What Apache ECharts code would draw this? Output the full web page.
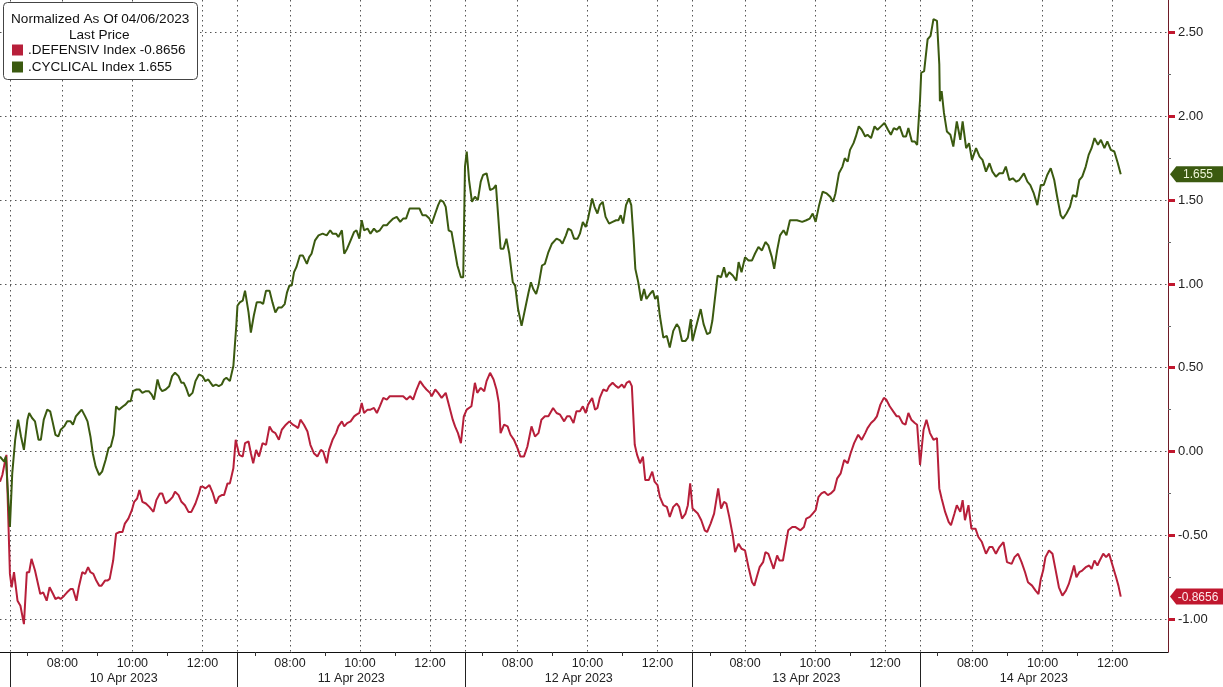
<!DOCTYPE html>
<html><head><meta charset="utf-8">
<script src="https://cdn.jsdelivr.net/npm/echarts@6/dist/echarts.min.js"></script>
<style>html,body{margin:0;padding:0;background:#fff}#c{width:1223px;height:687px}</style>
</head><body><div id="c"></div>
<script>
// Session days (each session 06:30-13:00 = 390 minutes; x = minutes since 06:30)
const dayLabels = ['10 Apr 2023', '11 Apr 2023', '12 Apr 2023', '13 Apr 2023', '14 Apr 2023'];
const hourLabelMinutes = [90, 210, 330];       // 08:00, 10:00, 12:00
const minorHourMinutes = [30, 150, 270];       // 07:00, 09:00, 11:00
const yLabelValues = [-1, -0.5, 0, 0.5, 1, 1.5, 2, 2.5];
const yMinorValues = [-0.75, -0.25, 0.25, 0.75, 1.25, 1.75, 2.25];
const seriesNames = ['.DEFENSIV Index', '.CYCLICAL Index'];
const lastLabels = ['-0.8656', '1.655'];

// tail of 6 Apr session (minutes before 10 Apr open)
const cycPrev = [[-17,-0.03],[-14,-0.04],[-10,-0.06],[-7,-0.03]];
const defPrev = [[-17,-0.18],[-13,-0.14],[-9,-0.07],[-6,-0.02]];

const cycD1 = [[0,-0.45],[4,-0.13],[9,0.07],[14,0.19],[19,0.09],[24,0.01],[30,0.19],[33,0.23],[38,0.20],[43,0.18],[49,0.07],[53,0.07],[58,0.19],[64,0.25],[69,0.24],[73,0.18],[78,0.10],[83,0.09],[87,0.13],[93,0.15],[98,0.18],[104,0.18],[108,0.16],[113,0.21],[118,0.23],[123,0.25],[129,0.21],[133,0.18],[138,0.09],[142,-0.01],[147,-0.09],[153,-0.14],[158,-0.12],[164,-0.05],[169,0.02],[173,0.03],[178,0.10],[182,0.27],[187,0.25],[194,0.27],[198,0.28],[203,0.30],[207,0.30],[211,0.36],[217,0.37],[222,0.37],[227,0.35],[233,0.36],[238,0.36],[243,0.34],[247,0.31],[253,0.43],[257,0.38],[261,0.36],[267,0.37],[273,0.39],[278,0.45],[283,0.47],[289,0.45],[294,0.41],[298,0.41],[302,0.38],[307,0.33],[313,0.35],[318,0.42],[324,0.46],[330,0.45],[335,0.42],[340,0.43],[344,0.41],[348,0.39],[353,0.40],[358,0.39],[363,0.40],[367,0.43],[371,0.44],[377,0.42],[383,0.51],[388,0.75]];
const cycD2 = [[0,0.87],[4,0.89],[9,0.90],[13,0.96],[19,0.83],[23,0.71],[28,0.81],[33,0.89],[40,0.89],[44,0.88],[49,0.96],[55,0.96],[60,0.89],[65,0.83],[70,0.86],[76,0.86],[81,0.88],[85,0.95],[89,0.99],[93,0.99],[97,1.07],[101,1.10],[107,1.17],[112,1.17],[119,1.12],[123,1.16],[127,1.18],[133,1.26],[139,1.29],[146,1.30],[153,1.29],[159,1.32],[163,1.30],[169,1.30],[173,1.28],[179,1.32],[183,1.18],[188,1.21],[194,1.26],[200,1.31],[204,1.32],[209,1.27],[213,1.38],[217,1.32],[223,1.33],[228,1.30],[234,1.33],[239,1.31],[244,1.32],[250,1.35],[256,1.35],[261,1.37],[267,1.39],[273,1.40],[279,1.37],[284,1.39],[289,1.39],[295,1.45],[300,1.45],[306,1.45],[312,1.45],[317,1.41],[323,1.41],[329,1.39],[333,1.36],[339,1.42],[344,1.47],[348,1.50],[353,1.49],[357,1.46],[362,1.32],[367,1.31],[371,1.23],[377,1.11],[383,1.04],[387,1.04]];
const cycD3 = [[0,1.70],[3,1.79],[7,1.62],[12,1.49],[17,1.52],[22,1.50],[27,1.61],[31,1.65],[37,1.66],[43,1.56],[49,1.57],[53,1.59],[57,1.40],[61,1.21],[66,1.21],[71,1.27],[76,1.18],[82,1.01],[86,0.99],[91,0.85],[97,0.75],[103,0.85],[109,0.95],[113,1.01],[117,0.97],[122,0.94],[126,0.99],[132,1.11],[137,1.12],[143,1.19],[149,1.24],[157,1.27],[163,1.26],[167,1.24],[173,1.29],[177,1.33],[182,1.32],[187,1.27],[193,1.27],[197,1.30],[202,1.37],[207,1.34],[211,1.39],[218,1.51],[222,1.46],[227,1.42],[231,1.47],[236,1.49],[241,1.40],[247,1.36],[253,1.37],[259,1.38],[263,1.38],[267,1.41],[271,1.36],[276,1.47],[281,1.51],[285,1.47],[289,1.27],[292,1.09],[297,1.01],[302,0.90],[307,0.97],[311,0.91],[317,0.94],[322,0.96],[326,0.91],[330,0.93],[334,0.81],[340,0.68],[346,0.69],[351,0.62],[357,0.72],[363,0.76],[367,0.74],[372,0.66],[378,0.66],[382,0.68],[387,0.79]];
const cycD4 = [[0,0.66],[3,0.65],[8,0.77],[14,0.85],[19,0.76],[25,0.70],[30,0.71],[34,0.78],[38,0.90],[43,1.05],[49,1.04],[54,1.10],[58,1.04],[63,1.07],[69,1.05],[75,1.02],[79,1.13],[84,1.07],[90,1.16],[96,1.14],[102,1.14],[107,1.18],[113,1.22],[119,1.20],[125,1.25],[130,1.23],[136,1.16],[140,1.09],[145,1.20],[150,1.29],[156,1.32],[161,1.29],[167,1.38],[172,1.38],[179,1.38],[188,1.37],[195,1.38],[201,1.39],[206,1.42],[211,1.37],[217,1.47],[223,1.55],[230,1.54],[236,1.52],[241,1.49],[245,1.54],[251,1.66],[257,1.70],[261,1.75],[266,1.73],[270,1.80],[276,1.84],[280,1.88],[285,1.94],[290,1.92],[296,1.88],[300,1.89],[306,1.87],[312,1.94],[317,1.92],[323,1.94],[329,1.96],[335,1.92],[340,1.89],[345,1.93],[350,1.92],[355,1.94],[361,1.88],[366,1.88],[370,1.93],[376,1.85],[381,1.85],[385,1.83]];
const cycD5 = [[0,2.10],[2,2.26],[7,2.27],[13,2.46],[18,2.48],[23,2.58],[29,2.57],[33,2.31],[34,2.09],[37,2.15],[41,2.02],[46,1.91],[52,1.89],[57,1.82],[63,1.97],[69,1.86],[73,1.97],[79,1.81],[84,1.84],[89,1.74],[96,1.81],[102,1.76],[107,1.74],[113,1.67],[119,1.72],[124,1.67],[130,1.64],[136,1.66],[142,1.66],[147,1.70],[153,1.62],[159,1.63],[165,1.61],[170,1.62],[178,1.66],[184,1.61],[189,1.59],[195,1.54],[201,1.47],[207,1.59],[212,1.59],[218,1.65],[224,1.69],[230,1.62],[235,1.52],[241,1.41],[245,1.39],[251,1.42],[257,1.46],[262,1.53],[268,1.52],[273,1.62],[278,1.64],[284,1.70],[289,1.77],[294,1.81],[299,1.87],[305,1.83],[310,1.86],[316,1.81],[321,1.85],[327,1.80],[333,1.79],[339,1.72],[344,1.655]];

const defD1 = [[0,-0.73],[3,-0.81],[7,-0.72],[13,-0.89],[18,-0.92],[24,-1.03],[29,-0.72],[33,-0.72],[37,-0.64],[43,-0.71],[52,-0.85],[57,-0.84],[63,-0.89],[68,-0.81],[74,-0.85],[78,-0.88],[83,-0.87],[87,-0.88],[93,-0.86],[98,-0.84],[104,-0.82],[108,-0.82],[114,-0.89],[118,-0.81],[124,-0.72],[129,-0.73],[134,-0.69],[138,-0.72],[143,-0.73],[148,-0.77],[153,-0.80],[157,-0.80],[163,-0.77],[167,-0.77],[171,-0.76],[177,-0.65],[182,-0.49],[188,-0.48],[193,-0.48],[197,-0.43],[203,-0.40],[209,-0.35],[213,-0.30],[218,-0.28],[222,-0.23],[227,-0.30],[233,-0.31],[239,-0.33],[246,-0.36],[251,-0.29],[257,-0.25],[261,-0.25],[267,-0.31],[274,-0.29],[279,-0.27],[283,-0.24],[289,-0.26],[294,-0.30],[300,-0.32],[306,-0.36],[311,-0.36],[318,-0.31],[324,-0.25],[327,-0.21],[331,-0.21],[335,-0.22],[342,-0.20],[348,-0.25],[353,-0.31],[358,-0.27],[363,-0.26],[367,-0.26],[373,-0.19],[377,-0.19],[383,-0.10],[387,0.07]];
const defD2 = [[3,-0.02],[9,-0.03],[13,0.05],[19,0.06],[23,-0.01],[27,-0.07],[32,0.01],[37,-0.03],[43,0.05],[49,0.04],[55,0.15],[60,0.12],[65,0.11],[71,0.07],[76,0.13],[83,0.16],[89,0.18],[95,0.16],[100,0.15],[104,0.14],[108,0.19],[114,0.16],[120,0.12],[125,0.04],[131,-0.01],[137,-0.03],[143,0.01],[147,0.00],[153,-0.07],[157,0.01],[163,0.07],[169,0.11],[173,0.15],[179,0.18],[183,0.15],[188,0.17],[194,0.18],[200,0.21],[204,0.22],[209,0.23],[213,0.29],[217,0.23],[223,0.25],[228,0.25],[234,0.26],[239,0.23],[244,0.27],[250,0.32],[256,0.31],[261,0.33],[267,0.33],[273,0.33],[279,0.33],[284,0.33],[290,0.31],[296,0.33],[301,0.31],[307,0.37],[313,0.42],[319,0.39],[324,0.37],[330,0.35],[333,0.33],[339,0.37],[344,0.35],[350,0.32],[357,0.35],[363,0.27],[369,0.19],[373,0.15],[378,0.11],[383,0.05],[388,0.21]];
const defD3 = [[3,0.25],[11,0.27],[17,0.41],[21,0.35],[27,0.38],[33,0.36],[37,0.42],[43,0.47],[49,0.43],[54,0.37],[58,0.29],[61,0.11],[67,0.16],[73,0.15],[78,0.10],[84,0.07],[90,0.02],[95,-0.03],[101,-0.03],[107,0.03],[114,0.15],[120,0.09],[126,0.11],[131,0.19],[137,0.21],[143,0.21],[151,0.26],[157,0.23],[163,0.22],[170,0.18],[175,0.21],[180,0.21],[186,0.17],[191,0.24],[197,0.24],[202,0.27],[207,0.23],[211,0.28],[218,0.32],[223,0.25],[227,0.26],[231,0.32],[237,0.37],[243,0.36],[247,0.39],[253,0.41],[259,0.39],[263,0.38],[269,0.40],[273,0.38],[277,0.41],[282,0.42],[286,0.39],[291,0.04],[295,-0.02],[300,-0.07],[305,-0.03],[309,-0.17],[315,-0.17],[321,-0.12],[325,-0.18],[330,-0.20],[334,-0.27],[340,-0.32],[346,-0.33],[351,-0.39],[357,-0.33],[363,-0.31],[367,-0.33],[372,-0.40],[378,-0.37],[382,-0.32],[386,-0.19]];
const defD4 = [[0,-0.34],[3,-0.35],[9,-0.37],[15,-0.41],[21,-0.47],[25,-0.48],[31,-0.43],[37,-0.37],[44,-0.22],[49,-0.34],[54,-0.30],[58,-0.31],[63,-0.39],[69,-0.50],[73,-0.60],[79,-0.55],[84,-0.58],[90,-0.59],[96,-0.69],[102,-0.78],[106,-0.80],[110,-0.75],[115,-0.69],[121,-0.66],[125,-0.60],[130,-0.61],[134,-0.65],[139,-0.70],[145,-0.62],[149,-0.65],[155,-0.65],[160,-0.55],[164,-0.47],[171,-0.45],[176,-0.45],[185,-0.47],[191,-0.45],[195,-0.40],[201,-0.39],[206,-0.37],[211,-0.35],[216,-0.27],[221,-0.25],[226,-0.24],[232,-0.26],[237,-0.25],[243,-0.23],[248,-0.16],[254,-0.13],[260,-0.05],[266,-0.07],[271,-0.01],[277,0.05],[284,0.10],[290,0.07],[296,0.11],[300,0.14],[306,0.17],[312,0.19],[316,0.21],[322,0.28],[328,0.32],[332,0.31],[338,0.27],[344,0.24],[350,0.21],[354,0.21],[360,0.17],[365,0.16],[370,0.23],[375,0.19],[381,0.17],[385,0.16]];
const defD5 = [[0,-0.08],[2,-0.01],[6,0.13],[11,0.19],[17,0.11],[23,0.07],[29,0.08],[33,-0.22],[37,-0.28],[43,-0.36],[49,-0.42],[53,-0.44],[59,-0.37],[63,-0.32],[69,-0.36],[73,-0.29],[77,-0.41],[83,-0.32],[88,-0.46],[95,-0.46],[100,-0.51],[106,-0.54],[113,-0.61],[119,-0.57],[124,-0.57],[130,-0.61],[136,-0.57],[143,-0.54],[149,-0.66],[157,-0.67],[162,-0.63],[168,-0.61],[174,-0.66],[180,-0.72],[185,-0.78],[192,-0.80],[198,-0.83],[203,-0.85],[207,-0.76],[211,-0.71],[215,-0.63],[221,-0.59],[227,-0.61],[232,-0.70],[238,-0.81],[244,-0.86],[250,-0.83],[255,-0.79],[260,-0.73],[264,-0.68],[268,-0.75],[273,-0.72],[278,-0.71],[284,-0.69],[290,-0.68],[294,-0.70],[299,-0.65],[304,-0.68],[308,-0.65],[314,-0.61],[319,-0.63],[324,-0.61],[330,-0.68],[336,-0.75],[340,-0.80],[344,-0.8656]];

const SESSION = 390;
const X_MIN = -17, X_MAX = 1985;
const Y_MIN = -1.196, Y_MAX = 2.694;

function build(prev, days) {
  const out = prev.map(p => [p[0], p[1]]);
  days.forEach((d, i) => d.forEach(p => out.push([i * SESSION + p[0], p[1]])));
  return out;
}
const defData = build(defPrev, [defD1, defD2, defD3, defD4, defD5]);
const cycData = build(cycPrev, [cycD1, cycD2, cycD3, cycD4, cycD5]);

const dayIdx = dayLabels.map((_, i) => i);
const sepVals = dayIdx.map(i => i * SESSION);
const labelVals = [].concat(...dayIdx.map(i => hourLabelMinutes.map(m => i * SESSION + m)));
const minorVals = [].concat(...dayIdx.map(i => minorHourMinutes.map(m => i * SESSION + m)));
const gridVals = sepVals.concat(labelVals);
const centerVals = dayIdx.map(i => i * SESSION + SESSION / 2);

function timeOf(v) {
  const m = ((v % SESSION) + SESSION) % SESSION + 390; // 06:30 = 390 minutes
  const h = Math.floor(m / 60), mm = Math.round(m % 60);
  return (h < 10 ? '0' : '') + h + ':' + (mm < 10 ? '0' : '') + mm;
}

const RED = '#b71f3a', GREEN = '#3b5a10';
const FONT = 'Liberation Sans';
const dotted = { color: '#555', width: 1, type: [1.5, 3.5] };

function tag(color, text, textColor, value) {
  return {
    symbol: 'path://M0,8 L7,0 L60,0 L60,16 L7,16 Z',
    symbolSize: [54, 16],
    symbolKeepAspect: false,
    symbolOffset: [29, 0],
    silent: true,
    label: { show: true, position: 'inside', formatter: text, color: textColor,
             fontSize: 12, fontFamily: FONT, offset: [1, 1] },
    itemStyle: { color: color },
    data: [{ coord: [X_MAX, value] }]
  };
}

const chart = echarts.init(document.getElementById('c'), null, { renderer: 'canvas' });
chart.setOption({
  animation: false,
  backgroundColor: '#ffffff',
  textStyle: { fontFamily: FONT },
  grid: { left: 0, right: 55, top: 0, bottom: 35, containLabel: false },
  xAxis: [
    { type: 'value', min: X_MIN, max: X_MAX, position: 'bottom',
      axisLine: { show: true, onZero: false, lineStyle: { color: '#111', width: 1 } },
      axisTick: { show: false, customValues: gridVals },
      axisLabel: { customValues: labelVals, formatter: v => timeOf(v), color: '#222', fontSize: 12.5, margin: 5, fontFamily: FONT },
      splitLine: { show: true, lineStyle: dotted } },
    { type: 'value', min: X_MIN, max: X_MAX, position: 'bottom',
      axisLine: { show: false, onZero: false },
      axisTick: { show: true, customValues: minorVals, length: 4, lineStyle: { color: '#333' } },
      axisLabel: { show: false }, splitLine: { show: false } },
    { type: 'value', min: X_MIN, max: X_MAX, position: 'bottom',
      axisLine: { show: false, onZero: false },
      axisTick: { show: true, customValues: sepVals, length: 36, lineStyle: { color: '#222', width: 1 } },
      axisLabel: { customValues: centerVals, formatter: v => dayLabels[Math.round((v - SESSION / 2) / SESSION)], color: '#222', fontSize: 12.5, margin: 20, fontFamily: FONT },
      splitLine: { show: false } }
  ],
  yAxis: [
    { type: 'value', min: Y_MIN, max: Y_MAX, position: 'right',
      axisLine: { show: true, onZero: false, lineStyle: { color: '#6e1b27', width: 1 } },
      axisTick: { show: true, customValues: yLabelValues, length: 7, lineStyle: { color: '#c0172e', width: 3 } },
      axisLabel: { customValues: yLabelValues, formatter: v => v.toFixed(2), color: '#222', fontSize: 13, margin: 10, fontFamily: FONT },
      splitLine: { show: true, lineStyle: dotted } },
    { type: 'value', min: Y_MIN, max: Y_MAX, position: 'right',
      axisLine: { show: false, onZero: false },
      axisTick: { show: true, customValues: yMinorValues, length: 3, lineStyle: { color: '#666' } },
      axisLabel: { show: false }, splitLine: { show: false } }
  ],
  legend: {
    data: seriesNames, orient: 'vertical', left: 12, top: 43, itemGap: 3,
    itemWidth: 11, itemHeight: 11, icon: 'rect', padding: 0, z: 10,
    selectedMode: false,
    formatter: name => name + ' ' + lastLabels[seriesNames.indexOf(name)],
    textStyle: { fontSize: 13.5, color: '#111', fontFamily: FONT }
  },
  graphic: [
    { type: 'rect', z: 5, shape: { x: 3.5, y: 2.5, width: 194, height: 77, r: 4 },
      style: { fill: '#fff', stroke: '#444', lineWidth: 1 } },
    { type: 'text', z: 6, left: 11, top: 12,
      style: { text: 'Normalized As Of 04/06/2023', fontSize: 13.6, fontFamily: FONT, fill: '#111' } },
    { type: 'text', z: 6, left: 69, top: 28,
      style: { text: 'Last Price', fontSize: 13.6, fontFamily: FONT, fill: '#111' } }
  ],
  series: [
    { name: seriesNames[0], type: 'line', data: defData, showSymbol: false, clip: false,
      lineStyle: { color: RED, width: 2 }, itemStyle: { color: RED }, z: 3,
      markPoint: tag('#c0172e', lastLabels[0], '#fde8ea', defData[defData.length - 1][1]) },
    { name: seriesNames[1], type: 'line', data: cycData, showSymbol: false, clip: false,
      lineStyle: { color: GREEN, width: 2 }, itemStyle: { color: GREEN }, z: 3,
      markPoint: tag('#3b5a10', lastLabels[1], '#eef5d8', cycData[cycData.length - 1][1]) }
  ]
});
</script>
</body></html>
